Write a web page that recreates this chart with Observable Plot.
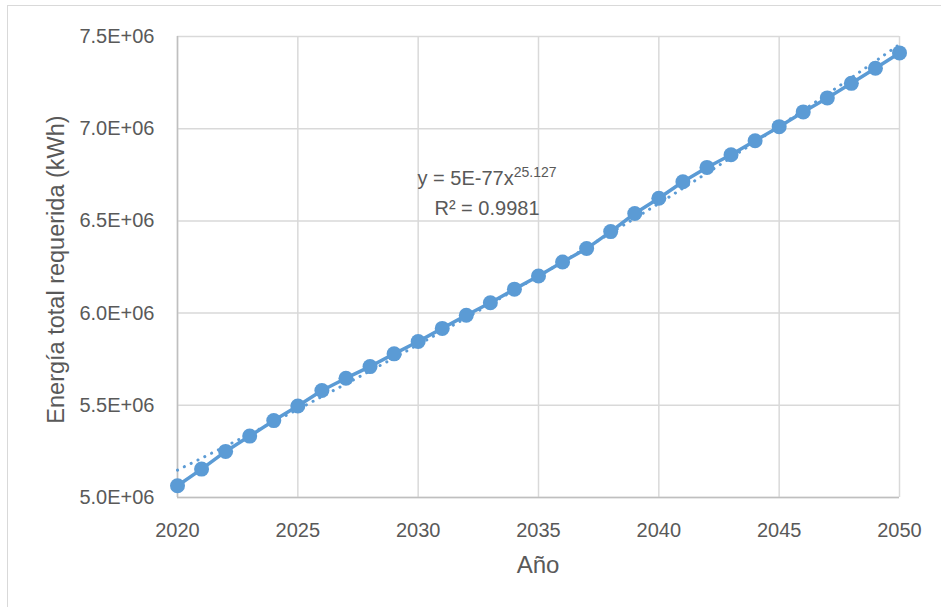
<!DOCTYPE html>
<html>
<head>
<meta charset="utf-8">
<script src="https://cdn.jsdelivr.net/npm/d3@7"></script>
<script src="https://cdn.jsdelivr.net/npm/@observablehq/plot@0.6"></script>
<style>
  body { margin: 0; background: #fff; }
  #chart { position: relative; width: 941px; height: 607px; overflow: hidden; }
  #frame { position: absolute; left: 7px; top: 5px; width: 1000px; height: 700px;
           border-left: 1.5px solid #d9d9d9; border-top: 1.5px solid #d9d9d9; }
  #chart svg { position: absolute; left: 0; top: 0; }
</style>
</head>
<body>
<div id="chart"><div id="frame"></div></div>
<script>
// Annual total energy requirement (kWh)
const years = [2020, 2021, 2022, 2023, 2024, 2025, 2026, 2027, 2028, 2029,
               2030, 2031, 2032, 2033, 2034, 2035, 2036, 2037, 2038, 2039,
               2040, 2041, 2042, 2043, 2044, 2045, 2046, 2047, 2048, 2049, 2050];
const energy = [5064000, 5154000, 5250000, 5333000, 5417000, 5496000, 5580000, 5647000, 5710000, 5779000,
                5846000, 5917000, 5988000, 6056000, 6130000, 6201000, 6277000, 6350000, 6442000, 6540000,
                6623000, 6712000, 6790000, 6859000, 6935000, 7011000, 7091000, 7167000, 7246000, 7328000, 7411000];

// Axis ticks
const xTicks = [2020, 2025, 2030, 2035, 2040, 2045, 2050];
const yTicks = [5000000, 5500000, 6000000, 6500000, 7000000, 7500000];

// Axis titles
const xTitle = "Año";
const yTitle = "Energía total requerida (kWh)";

// Power trend line: y = a·x^b, exponent as stated on the chart
const trendExponent = 25.127;
const trendLabel = "y = 5E-77x";
const trendSup = "25.127";
const r2Label = "R² = 0.9981";

const data = years.map((year, i) => ({year, energy: energy[i]}));

// coefficient fitted in log space for the stated exponent
const lnA = d3.mean(data, d => Math.log(d.energy) - trendExponent * Math.log(d.year));
const trend = years.map(year => ({year, energy: Math.exp(lnA + trendExponent * Math.log(year))}));

const blue = "#5B9BD5";
const grid = "#d9d9d9";
const ink = "#595959";
const font = "'Liberation Sans', Arial, sans-serif";
const fmtE = d => (d / 1e6).toFixed(1) + "E+06";

const W = 941, H = 607;
const mL = 177, mR = 42, mT = 36, mB = 110;

const plot = Plot.plot({
  width: W,
  height: H,
  marginLeft: mL,
  marginRight: mR,
  marginTop: mT,
  marginBottom: mB,
  style: {
    fontFamily: font,
    fontSize: "20px",
    color: ink,
    background: "transparent",
    overflow: "visible"
  },
  x: {domain: [2020, 2050]},
  y: {domain: [5000000, 7500000]},
  marks: [
    Plot.gridX(xTicks, {stroke: grid, strokeOpacity: 1, strokeWidth: 1.5}),
    Plot.gridY(yTicks, {stroke: grid, strokeOpacity: 1, strokeWidth: 1.5}),
    Plot.ruleX([xTicks[0]], {stroke: "#bfbfbf", strokeWidth: 1.5}),
    Plot.ruleY([yTicks[0]], {stroke: "#bfbfbf", strokeWidth: 1.5}),
    Plot.axisX(xTicks, {tickSize: 0, tickPadding: 25, tickFormat: d => String(d), label: null, fill: ink}),
    Plot.axisY(yTicks, {tickSize: 0, tickPadding: 23, tickFormat: fmtE, label: null, fill: ink}),
    Plot.line(trend, {x: "year", y: "energy", stroke: blue, strokeWidth: 3,
                      strokeDasharray: "0.1 7.5", strokeLinecap: "round"}),
    Plot.line(data, {x: "year", y: "energy", stroke: blue, strokeWidth: 3.5}),
    Plot.dot(data, {x: "year", y: "energy", r: 7.5, fill: blue, stroke: "none"})
  ]
});

const svg = d3.select(plot);
const frameMidX = (mL + W - mR) / 2;
const frameMidY = (mT + H - mB) / 2;

// Axis titles
const titles = svg.append("g")
  .attr("font-family", font)
  .attr("fill", ink)
  .attr("text-anchor", "middle");
titles.append("text")
  .attr("transform", `translate(${mL - 121},${frameMidY + 3}) rotate(-90)`)
  .attr("font-size", 23.5)
  .attr("dy", "0.32em")
  .text(yTitle);
titles.append("text")
  .attr("x", frameMidX)
  .attr("y", H - mB + 68)
  .attr("font-size", 24)
  .attr("dy", "0.32em")
  .text(xTitle);

// Trend equation and R² annotation
const note = svg.append("g")
  .attr("font-family", font)
  .attr("fill", ink)
  .attr("text-anchor", "middle");
const eq = note.append("text")
  .attr("x", mL + 310)
  .attr("y", mT + 149)
  .attr("font-size", 20);
eq.append("tspan").text(trendLabel);
eq.append("tspan").attr("font-size", 14).attr("dy", -8).text(trendSup);
note.append("text")
  .attr("x", mL + 310)
  .attr("y", mT + 179)
  .attr("font-size", 20)
  .text(r2Label);

document.getElementById("chart").appendChild(plot);
</script>
</body>
</html>
